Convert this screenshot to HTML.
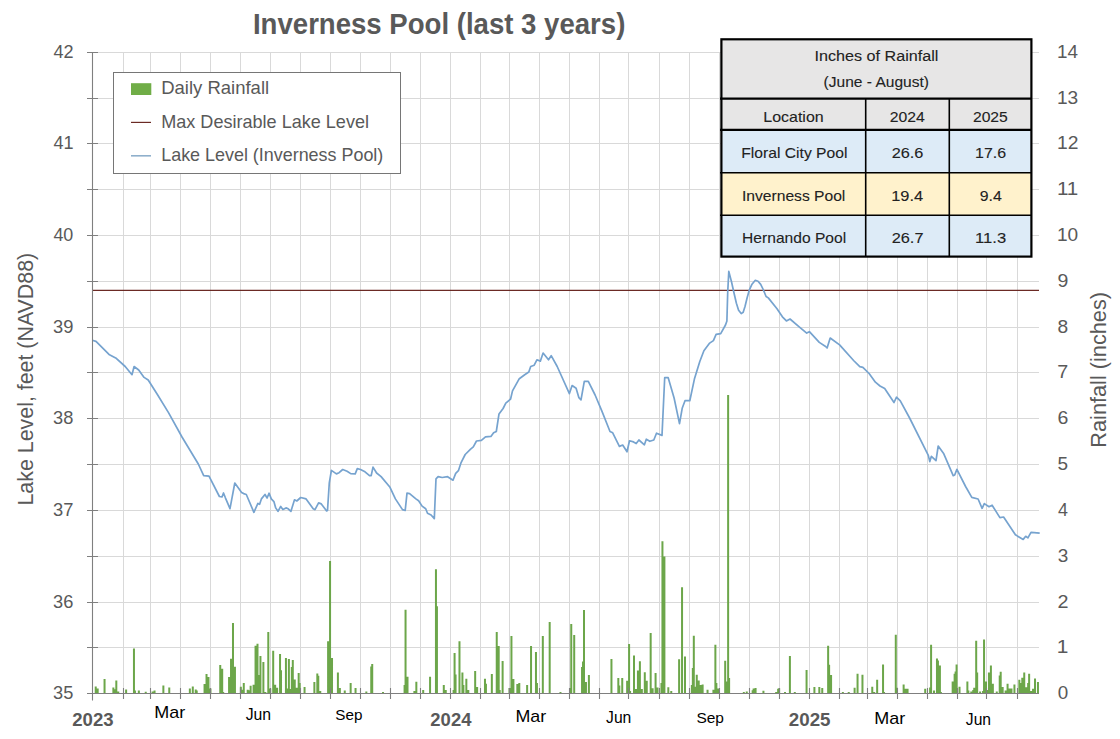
<!DOCTYPE html>
<html><head><meta charset="utf-8"><title>Inverness Pool</title>
<style>
html,body{margin:0;padding:0;background:#fff;}
body{width:1120px;height:739px;position:relative;overflow:hidden;font-family:"Liberation Sans",sans-serif;}
svg text{font-family:"Liberation Sans",sans-serif;}
</style></head><body>
<svg width="1120" height="739" viewBox="0 0 1120 739" style="position:absolute;left:0;top:0">
<rect width="1120" height="739" fill="#ffffff"/>
<path d="M92 52.50H1039 M92 98.50H1039 M92 143.50H1039 M92 189.50H1039 M92 235.50H1039 M92 281.50H1039 M92 327.50H1039 M92 372.50H1039 M92 418.50H1039 M92 464.50H1039 M92 510.50H1039 M92 556.50H1039 M92 602.50H1039 M92 647.50H1039 M123.50 52V693 M150.50 52V693 M180.50 52V693 M210.50 52V693 M240.50 52V693 M270.50 52V693 M300.50 52V693 M330.50 52V693 M360.50 52V693 M390.50 52V693 M420.50 52V693 M450.50 52V693 M480.50 52V693 M509.50 52V693 M539.50 52V693 M569.50 52V693 M599.50 52V693 M628.50 52V693 M659.50 52V693 M689.50 52V693 M719.50 52V693 M749.50 52V693 M779.50 52V693 M809.50 52V693 M839.50 52V693 M867.50 52V693 M897.50 52V693 M927.50 52V693 M957.50 52V693 M986.50 52V693 M1017.50 52V693" stroke="#d9d9d9" stroke-width="1" fill="none"/>
<path d="M94.72 686.40h2.0V693.70h-2.0ZM96.68 688.40h2.0V693.70h-2.0ZM103.55 678.90h2.0V693.70h-2.0ZM112.37 687.40h2.0V693.70h-2.0ZM113.35 689.20h2.0V693.70h-2.0ZM115.31 680.40h2.0V693.70h-2.0ZM117.27 691.60h2.0V693.70h-2.0ZM125.12 689.50h2.0V693.70h-2.0ZM132.96 648.40h2.0V693.70h-2.0ZM133.94 690.40h2.0V693.70h-2.0ZM137.86 690.40h2.0V693.70h-2.0ZM144.73 691.70h2.0V693.70h-2.0ZM151.59 691.60h2.0V693.70h-2.0ZM153.55 690.40h2.0V693.70h-2.0ZM162.37 685.40h2.0V693.70h-2.0ZM168.26 687.40h2.0V693.70h-2.0ZM188.85 688.40h2.0V693.70h-2.0ZM191.79 686.40h2.0V693.70h-2.0ZM194.73 689.50h2.0V693.70h-2.0ZM195.71 690.40h2.0V693.70h-2.0ZM203.55 684.00h2.0V693.70h-2.0ZM205.52 674.00h2.0V693.70h-2.0ZM207.48 676.90h2.0V693.70h-2.0ZM209.44 688.40h2.0V693.70h-2.0ZM219.24 665.00h2.0V693.70h-2.0ZM221.20 668.80h2.0V693.70h-2.0ZM222.18 691.90h2.0V693.70h-2.0ZM228.07 676.90h2.0V693.70h-2.0ZM230.03 658.70h2.0V693.70h-2.0ZM231.99 622.90h2.0V693.70h-2.0ZM233.95 666.80h2.0V693.70h-2.0ZM239.83 686.70h2.0V693.70h-2.0ZM241.79 689.80h2.0V693.70h-2.0ZM242.77 683.00h2.0V693.70h-2.0ZM246.70 689.80h2.0V693.70h-2.0ZM248.66 690.20h2.0V693.70h-2.0ZM249.64 685.70h2.0V693.70h-2.0ZM252.58 684.80h2.0V693.70h-2.0ZM254.54 645.80h2.0V693.70h-2.0ZM256.50 643.80h2.0V693.70h-2.0ZM257.48 687.80h2.0V693.70h-2.0ZM258.46 674.90h2.0V693.70h-2.0ZM259.44 656.00h2.0V693.70h-2.0ZM262.38 662.00h2.0V693.70h-2.0ZM264.34 691.90h2.0V693.70h-2.0ZM267.29 631.90h2.0V693.70h-2.0ZM269.25 688.40h2.0V693.70h-2.0ZM272.19 650.80h2.0V693.70h-2.0ZM274.15 684.80h2.0V693.70h-2.0ZM276.11 687.80h2.0V693.70h-2.0ZM279.05 653.90h2.0V693.70h-2.0ZM280.03 670.20h2.0V693.70h-2.0ZM284.93 658.00h2.0V693.70h-2.0ZM286.90 688.40h2.0V693.70h-2.0ZM287.88 658.90h2.0V693.70h-2.0ZM289.84 689.10h2.0V693.70h-2.0ZM290.82 666.90h2.0V693.70h-2.0ZM291.80 660.00h2.0V693.70h-2.0ZM293.76 679.60h2.0V693.70h-2.0ZM295.72 687.80h2.0V693.70h-2.0ZM297.68 672.90h2.0V693.70h-2.0ZM298.66 682.90h2.0V693.70h-2.0ZM303.56 686.90h2.0V693.70h-2.0ZM313.37 681.90h2.0V693.70h-2.0ZM316.31 673.60h2.0V693.70h-2.0ZM317.29 675.70h2.0V693.70h-2.0ZM319.25 690.90h2.0V693.70h-2.0ZM327.10 641.20h2.0V693.70h-2.0ZM329.06 561.10h2.0V693.70h-2.0ZM331.02 658.00h2.0V693.70h-2.0ZM336.90 672.60h2.0V693.70h-2.0ZM338.86 687.90h2.0V693.70h-2.0ZM343.76 690.50h2.0V693.70h-2.0ZM349.65 682.90h2.0V693.70h-2.0ZM354.55 687.90h2.0V693.70h-2.0ZM365.33 691.50h2.0V693.70h-2.0ZM370.24 666.50h2.0V693.70h-2.0ZM371.22 663.90h2.0V693.70h-2.0ZM382.00 691.90h2.0V693.70h-2.0ZM403.57 684.90h2.0V693.70h-2.0ZM404.55 609.70h2.0V693.70h-2.0ZM406.51 676.70h2.0V693.70h-2.0ZM413.38 690.90h2.0V693.70h-2.0ZM415.34 681.70h2.0V693.70h-2.0ZM422.20 689.90h2.0V693.70h-2.0ZM429.07 676.70h2.0V693.70h-2.0ZM434.95 569.20h2.0V693.70h-2.0ZM435.93 606.30h2.0V693.70h-2.0ZM442.79 684.90h2.0V693.70h-2.0ZM444.75 689.90h2.0V693.70h-2.0ZM452.60 689.90h2.0V693.70h-2.0ZM453.58 652.90h2.0V693.70h-2.0ZM454.56 674.60h2.0V693.70h-2.0ZM458.48 641.20h2.0V693.70h-2.0ZM461.42 672.60h2.0V693.70h-2.0ZM462.40 684.90h2.0V693.70h-2.0ZM465.34 678.70h2.0V693.70h-2.0ZM467.30 689.90h2.0V693.70h-2.0ZM474.17 671.00h2.0V693.70h-2.0ZM476.13 686.90h2.0V693.70h-2.0ZM483.97 678.70h2.0V693.70h-2.0ZM484.95 683.80h2.0V693.70h-2.0ZM490.84 674.00h2.0V693.70h-2.0ZM495.74 632.00h2.0V693.70h-2.0ZM497.70 646.00h2.0V693.70h-2.0ZM498.68 689.90h2.0V693.70h-2.0ZM501.62 661.10h2.0V693.70h-2.0ZM508.48 688.10h2.0V693.70h-2.0ZM510.44 636.10h2.0V693.70h-2.0ZM512.41 678.90h2.0V693.70h-2.0ZM516.33 684.00h2.0V693.70h-2.0ZM518.29 682.90h2.0V693.70h-2.0ZM526.13 684.90h2.0V693.70h-2.0ZM530.05 646.00h2.0V693.70h-2.0ZM534.96 652.00h2.0V693.70h-2.0ZM535.94 682.90h2.0V693.70h-2.0ZM541.82 636.10h2.0V693.70h-2.0ZM548.68 621.90h2.0V693.70h-2.0ZM559.47 691.90h2.0V693.70h-2.0ZM569.27 688.10h2.0V693.70h-2.0ZM570.25 624.10h2.0V693.70h-2.0ZM573.20 635.00h2.0V693.70h-2.0ZM581.04 667.00h2.0V693.70h-2.0ZM582.02 661.40h2.0V693.70h-2.0ZM583.00 610.00h2.0V693.70h-2.0ZM584.96 681.90h2.0V693.70h-2.0ZM587.90 675.00h2.0V693.70h-2.0ZM610.45 658.90h2.0V693.70h-2.0ZM617.32 677.90h2.0V693.70h-2.0ZM618.30 685.50h2.0V693.70h-2.0ZM621.24 677.90h2.0V693.70h-2.0ZM626.14 680.70h2.0V693.70h-2.0ZM628.10 643.90h2.0V693.70h-2.0ZM629.08 690.90h2.0V693.70h-2.0ZM633.00 655.40h2.0V693.70h-2.0ZM634.97 688.90h2.0V693.70h-2.0ZM636.93 670.40h2.0V693.70h-2.0ZM638.89 661.20h2.0V693.70h-2.0ZM640.85 688.90h2.0V693.70h-2.0ZM643.79 672.20h2.0V693.70h-2.0ZM645.75 680.70h2.0V693.70h-2.0ZM649.67 633.10h2.0V693.70h-2.0ZM651.63 688.30h2.0V693.70h-2.0ZM654.58 673.10h2.0V693.70h-2.0ZM656.54 687.60h2.0V693.70h-2.0ZM660.46 683.00h2.0V693.70h-2.0ZM661.44 541.20h2.0V693.70h-2.0ZM663.40 556.60h2.0V693.70h-2.0ZM667.32 687.20h2.0V693.70h-2.0ZM670.26 690.90h2.0V693.70h-2.0ZM678.11 659.30h2.0V693.70h-2.0ZM681.05 587.30h2.0V693.70h-2.0ZM683.99 656.50h2.0V693.70h-2.0ZM690.85 685.00h2.0V693.70h-2.0ZM691.83 667.90h2.0V693.70h-2.0ZM692.81 635.70h2.0V693.70h-2.0ZM694.78 686.70h2.0V693.70h-2.0ZM695.76 674.80h2.0V693.70h-2.0ZM697.72 680.60h2.0V693.70h-2.0ZM699.68 685.00h2.0V693.70h-2.0ZM701.64 684.40h2.0V693.70h-2.0ZM706.54 689.70h2.0V693.70h-2.0ZM712.42 689.70h2.0V693.70h-2.0ZM714.38 644.80h2.0V693.70h-2.0ZM715.37 682.90h2.0V693.70h-2.0ZM717.33 688.50h2.0V693.70h-2.0ZM724.19 660.70h2.0V693.70h-2.0ZM725.17 681.50h2.0V693.70h-2.0ZM727.13 394.90h2.0V693.70h-2.0ZM728.11 677.90h2.0V693.70h-2.0ZM742.82 691.90h2.0V693.70h-2.0ZM745.76 691.50h2.0V693.70h-2.0ZM751.64 690.30h2.0V693.70h-2.0ZM752.62 688.50h2.0V693.70h-2.0ZM754.58 688.00h2.0V693.70h-2.0ZM762.43 690.80h2.0V693.70h-2.0ZM775.17 691.90h2.0V693.70h-2.0ZM777.14 688.80h2.0V693.70h-2.0ZM778.12 688.20h2.0V693.70h-2.0ZM784.00 691.90h2.0V693.70h-2.0ZM788.90 655.90h2.0V693.70h-2.0ZM793.80 691.90h2.0V693.70h-2.0ZM805.57 669.90h2.0V693.70h-2.0ZM813.41 686.90h2.0V693.70h-2.0ZM818.32 686.90h2.0V693.70h-2.0ZM821.26 688.00h2.0V693.70h-2.0ZM827.14 645.80h2.0V693.70h-2.0ZM828.12 664.80h2.0V693.70h-2.0ZM830.08 675.00h2.0V693.70h-2.0ZM841.85 691.90h2.0V693.70h-2.0ZM847.73 691.90h2.0V693.70h-2.0ZM853.61 687.80h2.0V693.70h-2.0ZM856.55 673.70h2.0V693.70h-2.0ZM861.46 674.80h2.0V693.70h-2.0ZM871.26 686.70h2.0V693.70h-2.0ZM873.22 691.90h2.0V693.70h-2.0ZM876.16 679.70h2.0V693.70h-2.0ZM882.05 664.50h2.0V693.70h-2.0ZM883.03 691.90h2.0V693.70h-2.0ZM894.79 634.80h2.0V693.70h-2.0ZM895.77 687.80h2.0V693.70h-2.0ZM902.64 684.60h2.0V693.70h-2.0ZM904.60 688.70h2.0V693.70h-2.0ZM906.56 688.70h2.0V693.70h-2.0ZM924.21 688.70h2.0V693.70h-2.0ZM929.11 687.60h2.0V693.70h-2.0ZM930.09 644.70h2.0V693.70h-2.0ZM933.03 690.50h2.0V693.70h-2.0ZM935.97 658.60h2.0V693.70h-2.0ZM936.95 660.50h2.0V693.70h-2.0ZM938.91 665.60h2.0V693.70h-2.0ZM939.90 691.90h2.0V693.70h-2.0ZM951.66 681.50h2.0V693.70h-2.0ZM953.62 673.70h2.0V693.70h-2.0ZM954.60 671.60h2.0V693.70h-2.0ZM955.58 664.50h2.0V693.70h-2.0ZM958.52 686.70h2.0V693.70h-2.0ZM966.37 681.50h2.0V693.70h-2.0ZM967.35 690.50h2.0V693.70h-2.0ZM970.29 691.60h2.0V693.70h-2.0ZM972.25 690.00h2.0V693.70h-2.0ZM973.23 687.80h2.0V693.70h-2.0ZM975.19 640.70h2.0V693.70h-2.0ZM976.17 672.60h2.0V693.70h-2.0ZM979.11 691.60h2.0V693.70h-2.0ZM982.06 691.10h2.0V693.70h-2.0ZM983.04 639.60h2.0V693.70h-2.0ZM985.00 681.50h2.0V693.70h-2.0ZM986.96 690.00h2.0V693.70h-2.0ZM987.94 672.60h2.0V693.70h-2.0ZM989.90 665.60h2.0V693.70h-2.0ZM991.86 683.70h2.0V693.70h-2.0ZM995.78 691.60h2.0V693.70h-2.0ZM998.72 675.60h2.0V693.70h-2.0ZM999.70 671.80h2.0V693.70h-2.0ZM1001.67 686.90h2.0V693.70h-2.0ZM1004.61 690.50h2.0V693.70h-2.0ZM1006.57 683.70h2.0V693.70h-2.0ZM1008.53 688.40h2.0V693.70h-2.0ZM1010.49 688.60h2.0V693.70h-2.0ZM1013.43 684.60h2.0V693.70h-2.0ZM1018.33 679.70h2.0V693.70h-2.0ZM1020.29 682.90h2.0V693.70h-2.0ZM1021.28 677.70h2.0V693.70h-2.0ZM1023.24 672.60h2.0V693.70h-2.0ZM1025.20 687.30h2.0V693.70h-2.0ZM1027.16 682.90h2.0V693.70h-2.0ZM1028.14 673.70h2.0V693.70h-2.0ZM1030.10 691.10h2.0V693.70h-2.0ZM1032.06 688.70h2.0V693.70h-2.0ZM1034.02 678.60h2.0V693.70h-2.0ZM1036.96 681.90h2.0V693.70h-2.0Z" fill="#6ca64a"/>
<path d="M92 290.4H1039" stroke="#6b2a24" stroke-width="1.2" fill="none"/>
<polyline points="92.2,340.3 96.0,341.4 109.0,354.4 115.7,357.9 125.2,366.5 132.0,374.7 134.1,366.5 138.7,370.0 144.1,377.4 148.2,380.0 157.7,395.0 168.5,412.6 182.0,437.0 198.3,464.0 203.7,475.6 209.0,476.2 219.4,496.5 222.0,497.0 223.5,493.0 225.4,497.8 230.0,508.7 234.8,483.0 241.6,492.4 243.6,493.6 246.3,494.5 253.9,512.3 257.9,503.4 259.6,504.3 261.4,498.9 265.0,494.5 267.1,498.0 269.1,493.2 271.3,498.9 273.9,501.6 275.7,507.9 278.0,511.4 280.7,506.4 282.9,509.6 286.0,507.9 288.2,508.8 290.9,511.4 294.5,499.8 296.8,501.0 300.7,497.5 306.1,498.9 313.2,508.8 315.0,509.6 318.6,502.9 321.3,503.9 326.6,510.9 327.5,510.5 329.3,482.9 331.4,470.4 336.4,473.9 339.1,472.7 342.7,469.5 347.1,471.2 350.7,473.6 355.2,473.9 357.3,468.6 360.5,469.5 365.0,471.8 369.5,475.7 371.2,475.7 373.0,467.1 376.6,473.0 381.1,476.6 390.0,487.3 395.4,498.9 402.5,509.6 405.2,510.5 407.0,493.2 409.6,493.6 415.9,498.9 418.6,500.7 422.1,506.1 425.7,508.8 427.5,513.2 431.1,515.0 434.3,518.6 436.0,478.8 438.1,476.7 442.2,477.5 447.6,476.7 453.0,480.2 455.7,473.4 458.4,470.7 461.1,462.6 465.2,454.5 470.6,449.1 473.3,446.9 476.5,441.0 481.4,440.4 485.5,436.9 490.9,436.4 493.6,432.8 496.3,431.5 499.0,413.9 503.1,408.5 505.8,403.1 510.6,399.0 512.5,390.9 519.3,378.7 524.7,374.7 528.8,372.0 530.7,366.5 534.2,365.2 536.9,359.8 540.4,361.1 543.1,353.0 548.5,359.8 551.2,355.7 557.2,366.5 569.4,393.6 572.1,385.5 576.1,388.2 578.9,397.7 581.0,399.8 584.3,381.4 588.3,381.4 595.1,395.0 601.9,411.2 610.0,431.5 612.7,432.8 619.4,446.4 622.7,445.0 627.0,451.8 629.5,440.8 633.5,441.9 636.2,443.5 638.9,440.0 644.4,444.8 646.3,439.2 649.8,441.3 653.8,440.0 656.5,433.2 662.0,435.4 664.7,377.7 668.2,377.7 674.1,398.0 679.5,423.7 682.2,408.3 685.0,400.7 689.8,400.7 694.4,379.1 699.8,361.5 703.9,350.7 709.3,343.4 713.4,340.6 716.1,334.4 720.7,333.6 725.5,325.0 726.9,320.9 727.7,292.5 728.8,271.4 731.5,281.7 734.0,293.0 736.4,303.3 738.6,310.2 741.2,313.6 743.2,312.2 745.0,306.5 747.2,297.5 749.4,289.8 752.0,284.2 755.3,280.3 758.0,281.2 760.7,284.4 763.2,289.5 766.1,296.5 768.3,297.9 777.0,308.7 782.4,316.8 786.4,320.9 790.0,319.0 798.6,326.3 806.7,333.1 809.4,331.7 819.3,342.4 825.6,346.5 827.1,348.0 830.2,338.0 839.6,344.9 853.6,360.5 859.8,366.7 862.9,367.3 869.1,373.5 875.4,382.2 880.0,386.0 884.7,388.5 894.0,402.5 896.5,397.2 900.3,400.9 909.6,418.0 928.3,455.4 929.8,461.6 931.4,456.3 936.0,460.7 938.2,446.0 943.8,453.8 953.2,475.6 954.7,475.0 956.9,469.4 965.6,486.5 971.8,497.4 978.1,499.0 982.1,508.3 984.3,503.6 989.0,506.7 992.1,505.2 999.9,517.6 1003.6,517.0 1015.4,534.8 1023.2,539.4 1025.7,536.3 1027.9,537.9 1031.0,532.3 1034.1,532.6 1039.7,533.2" stroke="#76a3cf" stroke-width="1.7" fill="none" stroke-linejoin="round" stroke-linecap="butt"/>
<path d="M92.5 52V700 M87 693.5H1039 M87 52.50H98 M87 98.50H98 M87 143.50H98 M87 189.50H98 M87 235.50H98 M87 281.50H98 M87 327.50H98 M87 372.50H98 M87 418.50H98 M87 464.50H98 M87 510.50H98 M87 556.50H98 M87 602.50H98 M87 647.50H98 M92.5 693V700.5 M123.50 688V699 M150.50 688V699 M180.50 688V699 M210.50 688V699 M240.50 688V699 M270.50 688V699 M300.50 688V699 M330.50 688V699 M360.50 688V699 M390.50 688V699 M420.50 688V699 M450.50 688V699 M480.50 688V699 M509.50 688V699 M539.50 688V699 M569.50 688V699 M599.50 688V699 M628.50 688V699 M659.50 688V699 M689.50 688V699 M719.50 688V699 M749.50 688V699 M779.50 688V699 M809.50 688V699 M839.50 688V699 M867.50 688V699 M897.50 688V699 M927.50 688V699 M957.50 688V699 M986.50 688V699 M1017.50 688V699" stroke="#7f7f7f" stroke-width="1.1" fill="none"/>
<text x="252.96" y="33.75" font-size="28.78" font-weight="bold" fill="#595959" textLength="372.42" lengthAdjust="spacingAndGlyphs">Inverness Pool (last 3 years)</text>
<text x="53.38" y="57.80" font-size="18.31" font-weight="normal" fill="#595959" textLength="20.13" lengthAdjust="spacingAndGlyphs">42</text>
<text x="53.39" y="148.80" font-size="18.31" font-weight="normal" fill="#595959" textLength="20.10" lengthAdjust="spacingAndGlyphs">41</text>
<text x="53.39" y="240.80" font-size="18.31" font-weight="normal" fill="#595959" textLength="19.91" lengthAdjust="spacingAndGlyphs">40</text>
<text x="53.10" y="332.80" font-size="18.31" font-weight="normal" fill="#595959" textLength="20.36" lengthAdjust="spacingAndGlyphs">39</text>
<text x="53.11" y="423.80" font-size="18.31" font-weight="normal" fill="#595959" textLength="20.29" lengthAdjust="spacingAndGlyphs">38</text>
<text x="53.10" y="515.80" font-size="18.31" font-weight="normal" fill="#595959" textLength="20.42" lengthAdjust="spacingAndGlyphs">37</text>
<text x="53.11" y="607.80" font-size="18.31" font-weight="normal" fill="#595959" textLength="20.30" lengthAdjust="spacingAndGlyphs">36</text>
<text x="53.11" y="698.80" font-size="18.31" font-weight="normal" fill="#595959" textLength="20.26" lengthAdjust="spacingAndGlyphs">35</text>
<text x="1056.96" y="57.80" font-size="18.31" font-weight="normal" fill="#595959" textLength="20.99" lengthAdjust="spacingAndGlyphs">14</text>
<text x="1056.94" y="103.80" font-size="18.31" font-weight="normal" fill="#595959" textLength="21.30" lengthAdjust="spacingAndGlyphs">13</text>
<text x="1056.93" y="148.80" font-size="18.31" font-weight="normal" fill="#595959" textLength="21.44" lengthAdjust="spacingAndGlyphs">12</text>
<text x="1056.93" y="194.80" font-size="18.31" font-weight="normal" fill="#595959" textLength="21.41" lengthAdjust="spacingAndGlyphs">11</text>
<text x="1056.95" y="240.80" font-size="18.31" font-weight="normal" fill="#595959" textLength="21.20" lengthAdjust="spacingAndGlyphs">10</text>
<text x="1057.49" y="286.80" font-size="18.31" font-weight="normal" fill="#595959" textLength="10.84" lengthAdjust="spacingAndGlyphs">9</text>
<text x="1057.57" y="332.80" font-size="18.31" font-weight="normal" fill="#595959" textLength="10.67" lengthAdjust="spacingAndGlyphs">8</text>
<text x="1057.38" y="377.80" font-size="18.31" font-weight="normal" fill="#595959" textLength="11.01" lengthAdjust="spacingAndGlyphs">7</text>
<text x="1057.41" y="423.80" font-size="18.31" font-weight="normal" fill="#595959" textLength="10.85" lengthAdjust="spacingAndGlyphs">6</text>
<text x="1057.64" y="469.80" font-size="18.31" font-weight="normal" fill="#595959" textLength="10.56" lengthAdjust="spacingAndGlyphs">5</text>
<text x="1057.99" y="515.80" font-size="18.31" font-weight="normal" fill="#595959" textLength="9.93" lengthAdjust="spacingAndGlyphs">4</text>
<text x="1057.68" y="561.80" font-size="18.31" font-weight="normal" fill="#595959" textLength="10.56" lengthAdjust="spacingAndGlyphs">3</text>
<text x="1057.41" y="607.80" font-size="18.31" font-weight="normal" fill="#595959" textLength="10.99" lengthAdjust="spacingAndGlyphs">2</text>
<text x="1056.81" y="652.80" font-size="18.31" font-weight="normal" fill="#595959" textLength="11.61" lengthAdjust="spacingAndGlyphs">1</text>
<text x="1057.66" y="698.80" font-size="18.31" font-weight="normal" fill="#595959" textLength="10.47" lengthAdjust="spacingAndGlyphs">0</text>
<text transform="translate(33.00,505.54) rotate(-90)" x="0" y="0" font-size="21.66" font-weight="normal" fill="#595959" textLength="252.76" lengthAdjust="spacingAndGlyphs">Lake Level, feet (NAVD88)</text>
<text transform="translate(1106.10,447.68) rotate(-90)" x="0" y="0" font-size="21.66" font-weight="normal" fill="#595959" textLength="155.73" lengthAdjust="spacingAndGlyphs">Rainfall (inches)</text>
<text x="72.26" y="725.90" font-size="19.19" font-weight="bold" fill="#595959" textLength="41.31" lengthAdjust="spacingAndGlyphs">2023</text>
<text x="154.22" y="717.90" font-size="15.70" font-weight="normal" fill="#000000" textLength="30.97" lengthAdjust="spacingAndGlyphs">Mar</text>
<text x="245.65" y="719.90" font-size="15.70" font-weight="normal" fill="#000000" textLength="25.42" lengthAdjust="spacingAndGlyphs">Jun</text>
<text x="335.31" y="719.80" font-size="15.41" font-weight="normal" fill="#000000" textLength="27.13" lengthAdjust="spacingAndGlyphs">Sep</text>
<text x="430.36" y="726.30" font-size="19.19" font-weight="bold" fill="#595959" textLength="41.04" lengthAdjust="spacingAndGlyphs">2024</text>
<text x="515.43" y="721.90" font-size="15.70" font-weight="normal" fill="#000000" textLength="30.76" lengthAdjust="spacingAndGlyphs">Mar</text>
<text x="606.06" y="722.70" font-size="15.70" font-weight="normal" fill="#000000" textLength="25.26" lengthAdjust="spacingAndGlyphs">Jun</text>
<text x="696.40" y="722.70" font-size="15.41" font-weight="normal" fill="#000000" textLength="27.55" lengthAdjust="spacingAndGlyphs">Sep</text>
<text x="788.85" y="726.25" font-size="19.19" font-weight="bold" fill="#595959" textLength="41.67" lengthAdjust="spacingAndGlyphs">2025</text>
<text x="874.22" y="723.80" font-size="15.70" font-weight="normal" fill="#000000" textLength="30.97" lengthAdjust="spacingAndGlyphs">Mar</text>
<text x="965.86" y="724.80" font-size="15.70" font-weight="normal" fill="#000000" textLength="25.21" lengthAdjust="spacingAndGlyphs">Jun</text>
<rect x="113.5" y="72.5" width="287" height="101" fill="#ffffff" stroke="#767676" stroke-width="1"/>
<rect x="131" y="83.2" width="20.3" height="11.8" fill="#70ad47"/>
<path d="M131 122.4H151" stroke="#6b2a24" stroke-width="1.2"/>
<path d="M131 155.8H151" stroke="#8fb0cc" stroke-width="1.6"/>
<text x="161.18" y="94.40" font-size="17.59" font-weight="normal" fill="#595959" textLength="107.96" lengthAdjust="spacingAndGlyphs">Daily Rainfall</text>
<text x="161.22" y="127.60" font-size="17.59" font-weight="normal" fill="#595959" textLength="207.79" lengthAdjust="spacingAndGlyphs">Max Desirable Lake Level</text>
<text x="161.23" y="160.80" font-size="17.59" font-weight="normal" fill="#595959" textLength="222.08" lengthAdjust="spacingAndGlyphs">Lake Level (Inverness Pool)</text>
<rect x="721" y="39" width="310" height="59.5" fill="#e7e6e6"/>
<rect x="721" y="99" width="310" height="30.5" fill="#e7e6e6"/>
<rect x="721" y="130" width="310" height="42.5" fill="#ddebf7"/>
<rect x="721" y="173" width="310" height="42.5" fill="#fff2cc"/>
<rect x="721" y="215.5" width="310" height="41.5" fill="#ddebf7"/>
<path d="M720 98.7H1032 M720 129.8H1032" stroke="#000" stroke-width="2.2"/>
<path d="M720 172.8H1032 M720 215.3H1032 M865.7 99V256 M949.3 99V256" stroke="#000" stroke-width="1.6"/>
<rect x="721.4" y="39.3" width="310" height="217.3" fill="none" stroke="#000" stroke-width="2.2"/>
<text x="814.51" y="60.70" font-size="14.83" font-weight="normal" fill="#222222" textLength="123.97" lengthAdjust="spacingAndGlyphs" stroke="#222222" stroke-width="0.1">Inches of Rainfall</text>
<text x="823.64" y="87.10" font-size="14.24" font-weight="normal" fill="#222222" textLength="105.41" lengthAdjust="spacingAndGlyphs" stroke="#222222" stroke-width="0.1">(June - August)</text>
<text x="763.29" y="121.60" font-size="14.97" font-weight="normal" fill="#222222" textLength="60.35" lengthAdjust="spacingAndGlyphs" stroke="#222222" stroke-width="0.1">Location</text>
<text x="889.81" y="121.60" font-size="14.97" font-weight="normal" fill="#222222" textLength="35.05" lengthAdjust="spacingAndGlyphs" stroke="#222222" stroke-width="0.1">2024</text>
<text x="972.91" y="121.60" font-size="14.97" font-weight="normal" fill="#222222" textLength="34.95" lengthAdjust="spacingAndGlyphs" stroke="#222222" stroke-width="0.1">2025</text>
<text x="741.32" y="158.40" font-size="14.97" font-weight="normal" fill="#222222" textLength="106.13" lengthAdjust="spacingAndGlyphs" stroke="#222222" stroke-width="0.1">Floral City Pool</text>
<text x="891.68" y="158.40" font-size="14.97" font-weight="normal" fill="#222222" textLength="31.74" lengthAdjust="spacingAndGlyphs" stroke="#222222" stroke-width="0.1">26.6</text>
<text x="975.08" y="158.40" font-size="14.97" font-weight="normal" fill="#222222" textLength="31.12" lengthAdjust="spacingAndGlyphs" stroke="#222222" stroke-width="0.1">17.6</text>
<text x="741.96" y="200.60" font-size="14.97" font-weight="normal" fill="#222222" textLength="103.39" lengthAdjust="spacingAndGlyphs" stroke="#222222" stroke-width="0.1">Inverness Pool</text>
<text x="891.25" y="200.60" font-size="14.97" font-weight="normal" fill="#222222" textLength="31.93" lengthAdjust="spacingAndGlyphs" stroke="#222222" stroke-width="0.1">19.4</text>
<text x="979.76" y="200.60" font-size="14.97" font-weight="normal" fill="#222222" textLength="22.01" lengthAdjust="spacingAndGlyphs" stroke="#222222" stroke-width="0.1">9.4</text>
<text x="742.12" y="242.80" font-size="14.97" font-weight="normal" fill="#222222" textLength="104.02" lengthAdjust="spacingAndGlyphs" stroke="#222222" stroke-width="0.1">Hernando Pool</text>
<text x="891.68" y="242.80" font-size="14.97" font-weight="normal" fill="#222222" textLength="31.85" lengthAdjust="spacingAndGlyphs" stroke="#222222" stroke-width="0.1">26.7</text>
<text x="975.08" y="242.80" font-size="14.97" font-weight="normal" fill="#222222" textLength="31.12" lengthAdjust="spacingAndGlyphs" stroke="#222222" stroke-width="0.1">11.3</text>
</svg>
</body></html>
